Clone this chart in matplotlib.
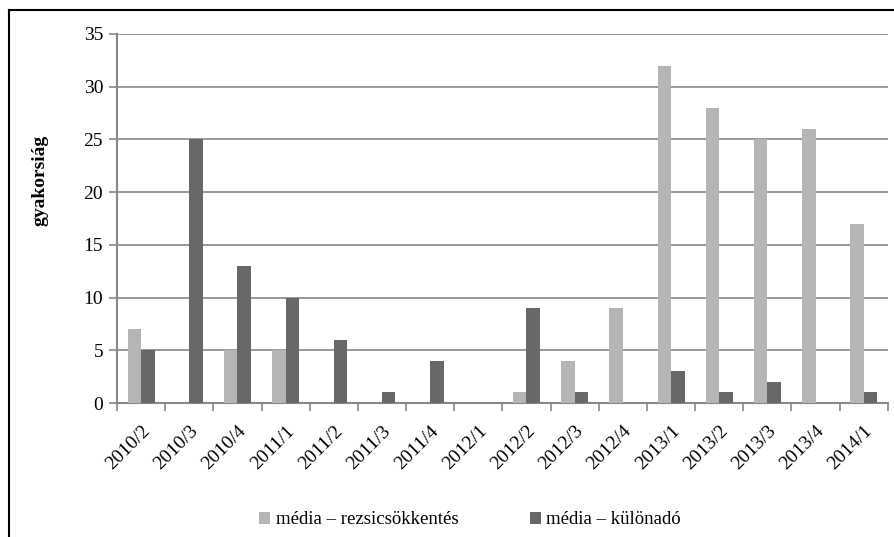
import numpy as np
import matplotlib
matplotlib.use("Agg")
import matplotlib.pyplot as plt
from matplotlib.lines import Line2D

# negyedevek
negyedevek = ["2010/2", "2010/3", "2010/4", "2011/1", "2011/2", "2011/3", "2011/4", "2012/1",
              "2012/2", "2012/3", "2012/4", "2013/1", "2013/2", "2013/3", "2013/4", "2014/1"]
rezsicsokkentes = [7, 0, 5, 5, 0, 0, 0, 0, 1, 4, 9, 32, 28, 25, 26, 17]
kulonado = [5, 25, 13, 10, 6, 1, 4, 0, 9, 1, 0, 3, 1, 2, 0, 1]

plt.rcParams['font.family'] = ['Liberation Serif', 'DejaVu Serif']

fig = plt.figure(figsize=(8.95, 5.37), dpi=100)
ax = fig.add_axes([0.1307, 0.2495, 0.8613, 0.6872])

x = np.arange(len(negyedevek))
w = 0.28
gray_line = '#878787'

ax.bar(x - w / 2, rezsicsokkentes, width=w, color='#b5b5b5', zorder=3,
       label='média – rezsicsökkentés')
ax.bar(x + w / 2, kulonado, width=w, color='#686868', zorder=3,
       label='média – különadó')

ax.set_xlim(-0.5, len(negyedevek) - 0.5)
ax.set_ylim(0, 35)
ax.set_yticks(range(0, 36, 5))
ax.yaxis.grid(True, color=gray_line, linewidth=1.2, zorder=0)

ax.set_xticks(x)
ax.set_xticklabels(negyedevek, rotation=45, ha='right', rotation_mode='anchor')
ax.set_xticks(np.arange(-0.5, len(negyedevek)), minor=True)
ax.tick_params(axis='x', which='major', length=0, pad=14, labelsize=14)
ax.tick_params(axis='x', which='minor', length=6, width=1.2, color=gray_line)
ax.tick_params(axis='y', length=6, width=1.2, color=gray_line, labelsize=14, pad=4)

for s in ['top', 'right']:
    ax.spines[s].set_visible(False)
for s in ['left', 'bottom']:
    ax.spines[s].set_color(gray_line)
    ax.spines[s].set_linewidth(1.5)

fig.text(40 / 895, 1 - 180 / 537, 'gyakorsiág', rotation=90, ha='center', va='center',
         fontsize=14, fontweight='bold')

fig.legend(loc='center', bbox_to_anchor=(470 / 895, 1 - 520 / 537), ncol=2, frameon=False,
           fontsize=13.5, handlelength=0.6, handleheight=0.6, handletextpad=0.3,
           columnspacing=3.8)

# keret
fig.add_artist(Line2D([9 / 895, 9 / 895], [0, 1 - 10 / 537], color='black', lw=1.5,
                      transform=fig.transFigure))
fig.add_artist(Line2D([9 / 895, 1], [1 - 10 / 537, 1 - 10 / 537], color='black', lw=1.5,
                      transform=fig.transFigure))

fig.savefig('out.png', dpi=100)
